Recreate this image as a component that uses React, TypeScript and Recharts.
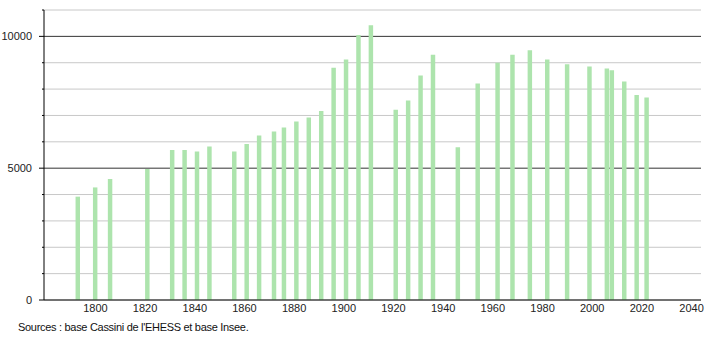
import React from 'react';
import { BarChart, Bar, XAxis, YAxis, CartesianGrid } from 'recharts';

document.body.style.margin = '0';

// Années de recensement et population
const years = [
  1793, 1800, 1806, 1821, 1831, 1836, 1841, 1846, 1856, 1861, 1866, 1872, 1876,
  1881, 1886, 1891, 1896, 1901, 1906, 1911, 1921, 1926, 1931, 1936, 1946, 1954,
  1962, 1968, 1975, 1982, 1990, 1999, 2006, 2008, 2013, 2018, 2022,
];
const population = [
  3920, 4270, 4590, 4970, 5690, 5690, 5630, 5820, 5630, 5920, 6240, 6390, 6540,
  6770, 6920, 7170, 8810, 9120, 10050, 10420, 7220, 7570, 8520, 9300, 5790, 8210,
  9000, 9300, 9470, 9120, 8940, 8860, 8780, 8710, 8290, 7780, 7680,
];
const xTicks = [1800, 1820, 1840, 1860, 1880, 1900, 1920, 1940, 1960, 1980, 2000, 2020, 2040];
const yTicks = [0, 1000, 2000, 3000, 4000, 5000, 6000, 7000, 8000, 9000, 10000, 11000];
const yMajor = [0, 5000, 10000];

const data = years.map((annee, i) => ({ annee, pop: population[i] }));

const YTick = (props: any) => {
  const { x, y, payload } = props;
  const major = yMajor.includes(payload.value);
  return (
    <g>
      <line x1={x + 8 - (major ? 5 : 2)} x2={x + 8} y1={y} y2={y} stroke="#000" />
      {major && (
        <text x={x - 4} y={y} dy={4} textAnchor="end" fontSize={11} fill="#222">
          {payload.value}
        </text>
      )}
    </g>
  );
};

// lignes horizontales : grises, sauf 5000 et 10000 en foncé
const GridLine = (props: any) => {
  const { x1, x2, y1, y2, index } = props;
  const v = yTicks[index];
  const major = v === 5000 || v === 10000;
  return <line x1={x1} x2={x2} y1={y1} y2={y2} stroke={major ? '#333' : '#c8c8c8'} strokeWidth={1} />;
};

const App = () => {
  return (
    <div style={{ position: 'relative', width: 710, height: 340, fontFamily: '"Liberation Sans", Arial, sans-serif', background: '#fff' }}>
      <BarChart width={710} height={340} data={data} margin={{ top: 10, right: 9, left: 0, bottom: 20 }}>
        <CartesianGrid vertical={false} horizontal={(p: any) => <GridLine key={p.key} {...p} />} />
        <XAxis
          dataKey="annee"
          type="number"
          domain={[1779.3, 2043.8]}
          ticks={xTicks}
          interval={0}
          allowDataOverflow
          tickLine={false}
          tickSize={4}
          tickMargin={0}
          axisLine={{ stroke: '#000' }}
          tick={{ fontSize: 11, fill: '#222' }}
          height={20}
        />
        <YAxis
          domain={[0, 11000]}
          ticks={yTicks}
          interval={0}
          width={44}
          tickLine={false}
          axisLine={{ stroke: '#000' }}
          tick={<YTick />}
        />
        <Bar dataKey="pop" fill="#ade4ad" barSize={8} isAnimationActive={false} />
      </BarChart>
      <div style={{ position: 'absolute', left: 18, top: 321, fontSize: 11, color: '#111', letterSpacing: -0.3 }}>
        Sources : base Cassini de l'EHESS et base Insee.
      </div>
    </div>
  );
};

export default App;
